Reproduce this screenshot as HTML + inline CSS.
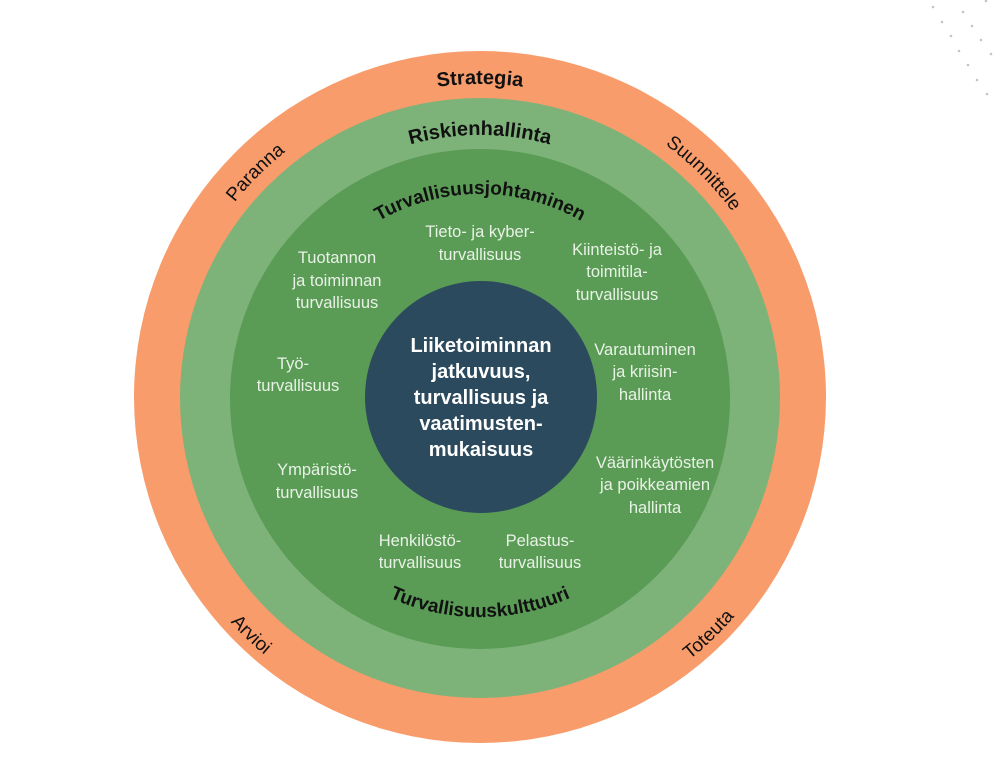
<!DOCTYPE html>
<html><head><meta charset="utf-8"><style>
html,body{margin:0;padding:0;background:#fff;}
svg{display:block;}
.in{font-family:"Liberation Sans",sans-serif;font-size:16.5px;fill:#e9f2e6;text-anchor:middle;}
.c{font-family:"Liberation Sans",sans-serif;font-size:20px;font-weight:bold;fill:#fff;text-anchor:middle;}
.b{font-family:"Liberation Sans",sans-serif;font-weight:bold;font-size:20px;fill:#111;}
.r{font-family:"Liberation Sans",sans-serif;font-size:19px;fill:#111;}
</style></head><body>
<svg width="995" height="768" viewBox="0 0 995 768">
<defs>
<path id="t313" d="M167,397 A313,313 0 1 1 793,397 A313,313 0 1 1 167,397"/>
<path id="t262" d="M218,397 A262,262 0 1 1 742,397 A262,262 0 1 1 218,397"/>
<path id="t203" d="M277,397 A203,203 0 1 1 683,397 A203,203 0 1 1 277,397"/>
<path id="b336" d="M144,397 A336,336 0 1 0 816,397 A336,336 0 1 0 144,397"/>
<path id="b220" d="M260,397 A220,220 0 1 0 700,397 A220,220 0 1 0 260,397"/>
</defs>
<g fill="#c4c4c4">
<circle cx="933" cy="7" r="1.3"/><circle cx="963" cy="12" r="1.3"/><circle cx="986" cy="1" r="1.3"/>
<circle cx="942" cy="22" r="1.3"/><circle cx="972" cy="26" r="1.3"/>
<circle cx="951" cy="36" r="1.3"/><circle cx="981" cy="40" r="1.3"/>
<circle cx="959" cy="51" r="1.3"/><circle cx="991" cy="54" r="1.3"/>
<circle cx="968" cy="65" r="1.3"/><circle cx="977" cy="80" r="1.3"/><circle cx="987" cy="94" r="1.3"/>
</g>
<circle cx="480" cy="397" r="346" fill="#f89c6b"/>
<circle cx="480" cy="398" r="300" fill="#7db379"/>
<circle cx="480" cy="399" r="250" fill="#5a9b56"/>
<circle cx="481" cy="397" r="116" fill="#2b4a5d"/>

<text class="b"><textPath href="#t313" startOffset="25%" text-anchor="middle">Strategia</textPath></text>
<text class="r"><textPath href="#t313" startOffset="12.5%" text-anchor="middle">Paranna</textPath></text>
<text class="r"><textPath href="#t313" startOffset="37.5%" text-anchor="middle">Suunnittele</textPath></text>
<text class="b"><textPath href="#t262" startOffset="25%" text-anchor="middle">Riskienhallinta</textPath></text>
<text class="b" style="font-size:19px"><textPath href="#t203" startOffset="25%" text-anchor="middle">Turvallisuusjohtaminen</textPath></text>
<text class="r"><textPath href="#b336" startOffset="12.8%" text-anchor="middle">Arvioi</textPath></text>
<text class="r"><textPath href="#b336" startOffset="37.2%" text-anchor="middle">Toteuta</textPath></text>
<text class="b" style="font-size:19px"><textPath href="#b220" startOffset="25%" text-anchor="middle">Turvallisuuskulttuuri</textPath></text>

<text class="in" x="480" y="237">Tieto- ja kyber-</text>
<text class="in" x="480" y="260">turvallisuus</text>
<text class="in" x="337" y="263">Tuotannon</text>
<text class="in" x="337" y="286">ja toiminnan</text>
<text class="in" x="337" y="308">turvallisuus</text>
<text class="in" x="617" y="255">Kiinteistö- ja</text>
<text class="in" x="617" y="277">toimitila-</text>
<text class="in" x="617" y="300">turvallisuus</text>
<text class="in" x="293" y="369">Työ-</text>
<text class="in" x="298" y="391">turvallisuus</text>
<text class="in" x="645" y="355">Varautuminen</text>
<text class="in" x="645" y="377">ja kriisin-</text>
<text class="in" x="645" y="400">hallinta</text>
<text class="in" x="317" y="475">Ympäristö-</text>
<text class="in" x="317" y="498">turvallisuus</text>
<text class="in" x="655" y="468">Väärinkäytösten</text>
<text class="in" x="655" y="490">ja poikkeamien</text>
<text class="in" x="655" y="513">hallinta</text>
<text class="in" x="420" y="546">Henkilöstö-</text>
<text class="in" x="420" y="568">turvallisuus</text>
<text class="in" x="540" y="546">Pelastus-</text>
<text class="in" x="540" y="568">turvallisuus</text>

<text class="c" x="481" y="352">Liiketoiminnan</text>
<text class="c" x="481" y="378">jatkuvuus,</text>
<text class="c" x="481" y="404">turvallisuus ja</text>
<text class="c" x="481" y="430">vaatimusten-</text>
<text class="c" x="481" y="456">mukaisuus</text>
</svg>
</body></html>
